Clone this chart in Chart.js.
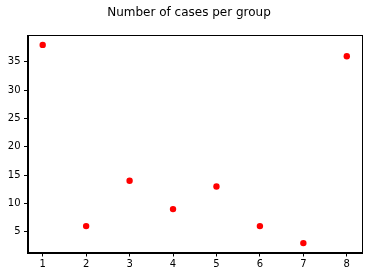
<!DOCTYPE html>
<html><head><meta charset="utf-8">
<script src="https://cdn.jsdelivr.net/npm/chart.js@4"></script>
<style>html,body{margin:0;padding:0;background:#fff}</style>
</head><body>
<canvas id="c" width="368" height="277" style="width:368px;height:277px;display:block"></canvas>
<script>
const groups = [1, 2, 3, 4, 5, 6, 7, 8];
const cases = [38, 6, 14, 9, 13, 6, 3, 36];
const xTicks = [1, 2, 3, 4, 5, 6, 7, 8];
const yTicks = [5, 10, 15, 20, 25, 30, 35];
const titleText = 'Number of cases per group';

const font = {family: 'DejaVu Sans', size: 10};
const frame = {
  id: 'frame',
  afterDatasetsDraw(chart) {
    const a = chart.chartArea, c = chart.ctx;
    c.save();
    c.strokeStyle = '#000';
    c.lineWidth = 1;
    c.strokeRect(Math.round(a.left) + 0.5, Math.round(a.top) + 0.5,
                 Math.round(a.right - a.left) - 1, Math.round(a.bottom - a.top) - 1);
    c.fillStyle = '#000';
    c.font = '12px "DejaVu Sans"';
    c.textAlign = 'center';
    c.textBaseline = 'middle';
    c.fillText(titleText, 189, 12.5);
    c.restore();
  }
};

new Chart(document.getElementById('c'), {
  type: 'scatter',
  data: {
    datasets: [{
      data: groups.map((g, i) => ({x: g, y: cases[i]})),
      backgroundColor: '#ff0000',
      borderWidth: 0,
      pointRadius: 3.2
    }]
  },
  options: {
    responsive: false,
    animation: false,
    devicePixelRatio: 1,
    layout: {padding: {left: 0, right: 6, top: 35, bottom: 0}},
    plugins: {
      legend: {display: false},
      tooltip: {enabled: false},
      title: {display: false}
    },
    scales: {
      x: {
        type: 'linear', min: 0.65, max: 8.35,
        afterBuildTicks: s => { s.ticks = xTicks.map(v => ({value: v})); },
        afterFit: s => { s.height = 24; },
        grid: {drawOnChartArea: false, drawTicks: true, tickLength: 3.5, color: '#000'},
        border: {display: true, color: '#000', width: 1},
        ticks: {color: '#000', font: font, padding: 2, maxRotation: 0, autoSkip: false, callback: v => String(v)}
      },
      y: {
        type: 'linear', min: 1.25, max: 39.75,
        afterBuildTicks: s => { s.ticks = yTicks.map(v => ({value: v})); },
        afterFit: s => { s.width = 27.5; },
        grid: {drawOnChartArea: false, drawTicks: true, tickLength: 3.5, color: '#000'},
        border: {display: true, color: '#000', width: 1},
        ticks: {color: '#000', font: font, padding: 3.5, autoSkip: false, callback: v => String(v)}
      }
    }
  },
  plugins: [frame]
});
</script>
</body></html>
